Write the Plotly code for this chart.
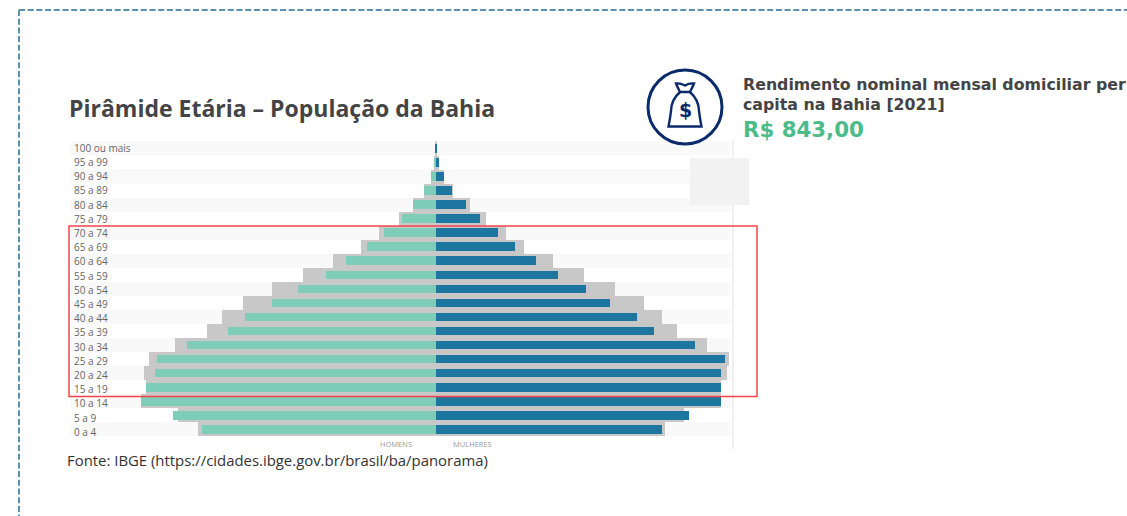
import plotly.graph_objects as go

W, H = 1127, 516

age_groups = ["100 ou mais", "95 a 99", "90 a 94", "85 a 89", "80 a 84", "75 a 79", "70 a 74",
              "65 a 69", "60 a 64", "55 a 59", "50 a 54", "45 a 49", "40 a 44", "35 a 39",
              "30 a 34", "25 a 29", "20 a 24", "15 a 19", "10 a 14", "5 a 9", "0 a 4"]
# Thousands of people
men_bahia = [1, 2, 10, 23, 45, 67, 103, 137, 179, 219, 276, 327, 381, 415, 497, 557, 561, 579, 590, 526, 467]
women_bahia = [2, 7, 17, 33, 61, 88, 125, 159, 200, 244, 300, 349, 403, 437, 519, 578, 570, 571, 571, 507, 452]
men_compare = [1, 2, 10, 23, 45, 73, 113, 150, 205, 265, 327, 385, 427, 458, 522, 573, 584, 579, 590, 516, 475]
women_compare = [2, 6, 17, 35, 68, 100, 141, 177, 235, 296, 359, 416, 453, 483, 543, 586, 583, 571, 571, 497, 459]

band_ages = age_groups[0::2]
side_labels = ["HOMENS", "MULHERES"]
side_label_x = [-79, 74]

TEAL, BLUE, GRAY = "#7dcdb8", "#1c769f", "#c8c8c8"
NAVY = "#0b2a6c"


def px(x):
    return x / W


def py(y):
    return 1 - y / H


def path(points, close=False):
    d = ""
    for i, p in enumerate(points):
        if len(p) == 2:
            d += f"{'M' if i == 0 else 'L'}{px(p[0]):.5f},{py(p[1]):.5f} "
        else:
            d += (f"Q{px(p[0]):.5f},{py(p[1]):.5f} {px(p[2]):.5f},{py(p[3]):.5f} ")
    return d + ("Z" if close else "")


fig = go.Figure()
# Invisible carrier for the age labels on the left-hand axis
fig.add_scatter(y=age_groups, x=[0] * len(age_groups), mode="markers", marker=dict(opacity=0),
                showlegend=False, hoverinfo="skip", yaxis="y")
fig.add_bar(y=age_groups, x=[-v for v in men_compare], orientation="h", width=1.0, yaxis="y2",
            marker=dict(color=GRAY, line_width=0), name="Brasil H", showlegend=False, hoverinfo="skip")
fig.add_bar(y=age_groups, x=women_compare, orientation="h", width=1.0, yaxis="y2",
            marker=dict(color=GRAY, line_width=0), name="Brasil M", showlegend=False, hoverinfo="skip")
fig.add_bar(y=age_groups, x=[-v for v in men_bahia], orientation="h", width=0.62, yaxis="y2",
            marker=dict(color=TEAL, line_width=0), name="Homens", showlegend=False)
fig.add_bar(y=age_groups, x=women_bahia, orientation="h", width=0.62, yaxis="y2",
            marker=dict(color=BLUE, line_width=0), name="Mulheres", showlegend=False)

shapes = []
# Alternating row bands
for age in band_ages:
    i = age_groups.index(age)
    shapes.append(dict(type="rect", xref="paper", yref="y2", x0=px(70), x1=px(731), y0=i - 0.5, y1=i + 0.5,
                       fillcolor="#f9f9f9", line_width=0, layer="below"))
# Right edge rule and the grey box
shapes.append(dict(type="line", xref="paper", yref="paper", x0=px(733), x1=px(733), y0=py(140), y1=py(449),
                   line=dict(color="#f0f0f0", width=2), layer="below"))
shapes.append(dict(type="rect", xref="paper", yref="paper", x0=px(690), x1=px(749), y0=py(158), y1=py(205),
                   fillcolor="#f2f2f2", line_width=0, layer="below"))
# Red highlight
shapes.append(dict(type="rect", xref="paper", yref="paper", x0=px(69), x1=px(757), y0=py(226), y1=py(396.5),
                   line=dict(color="#f4444a", width=1.5), fillcolor="rgba(0,0,0,0)"))
# Dashed frame
dash = dict(color="#5b91ae", width=2, dash="6px,2.7px")
shapes.append(dict(type="line", xref="paper", yref="paper", x0=px(19), x1=1, y0=py(10), y1=py(10), line=dash))
shapes.append(dict(type="line", xref="paper", yref="paper", x0=px(19), x1=px(19), y0=py(10), y1=0, line=dash))
# Money bag icon
shapes.append(dict(type="circle", xref="paper", yref="paper", x0=px(648), x1=px(722), y0=py(70), y1=py(144),
                   line=dict(color=NAVY, width=3)))
bag = [(680, 92), (671, 100, 671, 111), (670, 119, 668.5, 126.5), (701.5, 126.5),
       (700, 119, 699, 111), (699, 100, 690, 92)]
shapes.append(dict(type="path", xref="paper", yref="paper", path=path(bag),
                   line=dict(color=NAVY, width=2.4)))
knot = [(680, 92), (690, 92), (693, 86, 694, 83.5), (689, 83, 685, 85.5), (680, 83, 676, 83.5),
        (677, 86, 680, 92)]
shapes.append(dict(type="path", xref="paper", yref="paper", path=path(knot),
                   line=dict(color=NAVY, width=2.4)))

annotations = [
    dict(text="Pirâmide Etária – População da Bahia", x=px(67), y=py(108), font=dict(family="Open Sans", size=23, color="#444444", weight="bold")),
    dict(text="Rendimento nominal mensal domiciliar per", x=px(741), y=py(85), font=dict(family="DejaVu Sans", size=15.8, color="#444444", weight="bold")),
    dict(text="capita na Bahia [2021]", x=px(741), y=py(104), font=dict(family="DejaVu Sans", size=15.8, color="#444444", weight="bold")),
    dict(text="R$ 843,00", x=px(741), y=py(129), font=dict(family="DejaVu Sans", size=21.3, color="#4dbb8a", weight="bold")),
    dict(text="Fonte: IBGE (https://cidades.ibge.gov.br/brasil/ba/panorama)", x=px(65), y=py(460), font=dict(family="Open Sans", size=14.9, color="#333333")),
]
annotations = [dict(a, xref="paper", yref="paper", xanchor="left", yanchor="middle", showarrow=False) for a in annotations]
annotations.append(dict(text="$", xref="paper", yref="paper", x=px(685), y=py(110), xanchor="center", yanchor="middle",
                        showarrow=False, font=dict(family="DejaVu Sans", size=19, color=NAVY, weight="bold")))
for lab, xv in zip(side_labels, side_label_x):
    annotations.append(dict(text=lab, xref="x", yref="paper", x=xv, y=py(443.5), xanchor="center", yanchor="middle",
                            showarrow=False, font=dict(family="Open Sans", size=7.5, color="#999999")))

center = 435.7
left = 70
bar_row0, bar_step = 148.5, 14.04
label_row0, label_step = 148.3, 14.2
fig.update_layout(
    width=W, height=H, autosize=False, margin=dict(l=0, r=0, t=0, b=0),
    paper_bgcolor="white", plot_bgcolor="rgba(0,0,0,0)", barmode="overlay", bargap=0,
    shapes=shapes, annotations=annotations, hovermode="closest",
    xaxis=dict(domain=[left / W, 1], range=[-(center - left) * 2, (W - center) * 2], visible=False, fixedrange=True),
    yaxis=dict(type="category", categoryorder="array", categoryarray=age_groups,
               range=[(H - label_row0) / label_step, -label_row0 / label_step], showgrid=False, zeroline=False, showline=False,
               ticks="", ticklabelposition="inside", ticklabelstandoff=1,
               tickfont=dict(family="Open Sans", size=10, color="#666666"), fixedrange=True),
    yaxis2=dict(type="category", categoryorder="array", categoryarray=age_groups, overlaying="y", side="left",
                range=[(H - bar_row0) / bar_step, -bar_row0 / bar_step], visible=False, fixedrange=True),
)
fig.write_html("out.html", config=dict(displayModeBar=False), post_script="document.body.style.margin='0';")
